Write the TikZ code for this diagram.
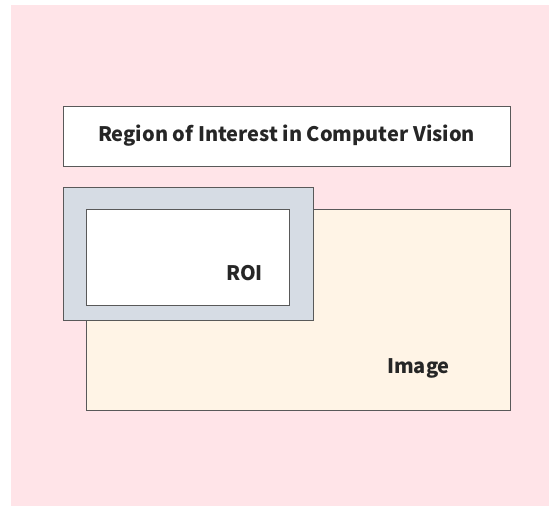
\documentclass[tikz,border=0pt]{standalone}
\usepackage{fontspec}
\setmainfont{Noto Sans CJK SC}
\begin{document}
\begin{tikzpicture}[x=1pt,y=-1pt,
  box/.style={draw=black!65, line width=0.8pt, inner sep=0pt, anchor=center},
  lbl/.style={font=\fontsize{20}{24}\selectfont\bfseries, text=black!85}]
\useasboundingbox (0,0) rectangle (549,506);
\fill[white] (0,0) rectangle (549,506);
\fill[fill={rgb,255:red,255;green,228;blue,232}] (11,5) rectangle (549,506);
\node[box, fill=white, minimum width=447pt, minimum height=60pt] (title) at (286.5,136) {};
\node[lbl] (titletext) at (286.5,135.5) {Region of Interest in Computer Vision};
\node[box, fill={rgb,255:red,255;green,244;blue,230}, minimum width=424pt, minimum height=201pt] (image) at (298,309.5) {};
\node[box, fill={rgb,255:red,214;green,220;blue,228}, minimum width=250pt, minimum height=133pt] (roiouter) at (188,253.5) {};
\node[box, fill=white, minimum width=203pt, minimum height=96pt] (roiinner) at (187.5,257) {};
\node[lbl] (roitext) at (244.5,273) {ROI};
\node[lbl] (imagetext) at (418.5,368) {Image};
\end{tikzpicture}
\end{document}
